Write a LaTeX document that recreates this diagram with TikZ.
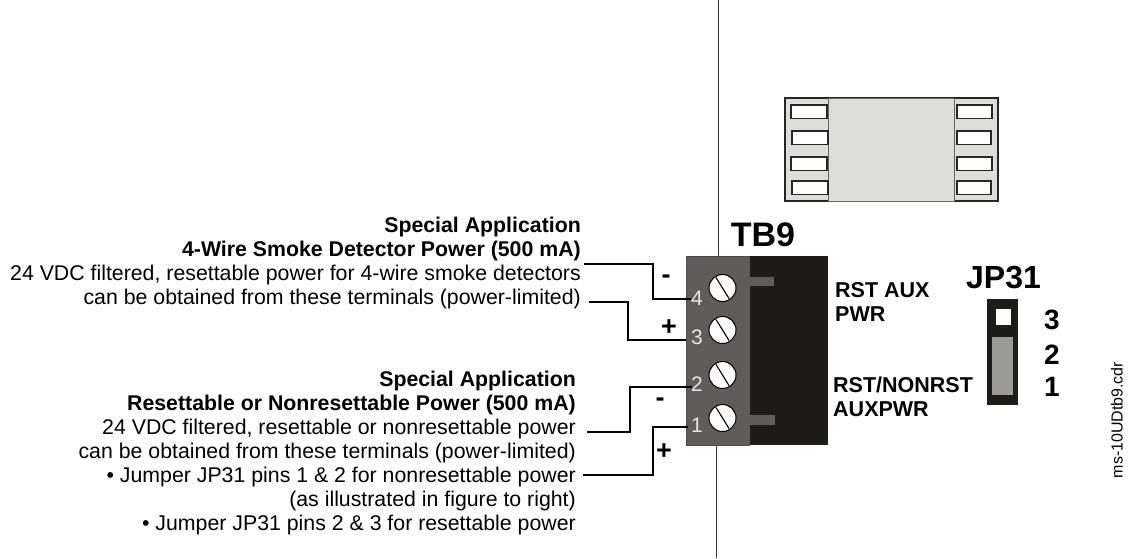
\documentclass[tikz,border=0pt]{standalone}
\usepackage{fontspec}
\setmainfont{Liberation Sans}
\definecolor{blockdark}{HTML}{1E1C1A}
\definecolor{blockgray}{HTML}{5F5C5B}
\definecolor{chipgray}{HTML}{DDDDDC}
\definecolor{jumpgray}{HTML}{9A9A98}
\definecolor{digitgray}{HTML}{E6E6E6}
\tikzset{
  notes/.style={anchor=north east,align=right,inner sep=0pt,font=\fontsize{21.3}{24}\selectfont},
  wire/.style={line width=1.5pt,black},
  heading/.style={inner sep=0pt,font=\bfseries\fontsize{21.5}{24}\selectfont},
  termnum/.style={inner sep=0pt,text=digitgray,font=\fontsize{21}{21}\selectfont},
  polarity/.style={inner sep=0pt,font=\bfseries\fontsize{27}{27}\selectfont},
  pinnum/.style={inner sep=0pt,font=\bfseries\fontsize{28}{28}\selectfont}
}
\begin{document}
\begin{tikzpicture}[x=1pt,y=-1pt]
     \useasboundingbox (0,0) rectangle (1128,558);
     % Definitions
     \def\r{13.5}
     % Center line
     \draw[line width=1pt,black!80] (718,0) -- (718,256);
     \draw[line width=1pt,black!80] (716,445) -- (716,558);
     % Chip and its pins
     \draw[line width=1.2pt,fill=chipgray,draw=black!85] (785,98) rectangle (998,201);
     \draw[line width=1pt,fill=chipgray,draw=black!60] (828,98) rectangle (954,201);
     \foreach \y/\xa/\xb/\xc/\xd in {105/791/827/957/992,131/792/828/957/991,157/791/827/957/992,181/792/828/957/991} {
      \draw[line width=1.2pt,fill=white,draw=black!85] (\xa,\y) rectangle (\xb,\y+13.5);
      \draw[line width=1.2pt,fill=white,draw=black!85] (\xc,\y) rectangle (\xd,\y+13.5);
     };
     % Terminal block
     \fill[blockdark] (738,256) rectangle (828,445);
     \fill[blockgray] (686,256) rectangle (749.5,445);
     \draw[line width=0.8pt,black!70] (686,445) -- (686,256) -- (749.5,256);
     \draw[line width=0.8pt,black!70] (686,445) -- (749.5,445);
     \fill[blockgray] (749,277) rectangle (774,286);
     \fill[blockgray] (749,415) rectangle (775,425);
     % Screws and terminal numbers
     \foreach \n/\yc/\yn in {4/288/298,3/330/337,2/375/384,1/418/425} {
      \node[circle,minimum size=2*\r pt,inner sep=0pt,fill=white,draw=black,line width=1pt] (screw\n) at (722.5,\yc) {};
      \draw[line width=1.1pt] (716,\yc-10.5) -- (729,\yc+10.5);
      \node[termnum] (num\n) at (697,\yn) {\n};
     };
     % Texts
     \node[notes] (upper) at (581,217) {\textbf{Special Application}\\\textbf{4-Wire Smoke Detector Power (500 mA)}\\24 VDC filtered, resettable power for 4-wire smoke detectors\\can be obtained from these terminals (power-limited)};
     \node[notes] (lower) at (576,371) {\textbf{Special Application}\\\textbf{Resettable or Nonresettable Power (500 mA)}\\24 VDC filtered, resettable or nonresettable power\\can be obtained from these terminals (power-limited)\\• Jumper JP31 pins 1 \& 2 for nonresettable power\\(as illustrated in figure to right)\\• Jumper JP31 pins 2 \& 3 for resettable power};
     \node[heading,anchor=north west,align=left] (rstaux) at (835,282) {RST AUX\\PWR};
     \node[heading,anchor=north west,align=left] (rstnon) at (833,377) {RST/NONRST\\AUXPWR};
     \node[inner sep=0pt,font=\bfseries\fontsize{34}{34}\selectfont] (tbname) at (763,235) {TB9};
     \node[inner sep=0pt,font=\bfseries\fontsize{32}{32}\selectfont] (jpname) at (1003.5,278) {JP31};
     \node[pinnum] (pin3) at (1052,320) {3};
     \node[pinnum] (pin2) at (1052,355) {2};
     \node[pinnum] (pin1) at (1052,387) {1};
     \node[rotate=90,inner sep=0pt,font=\fontsize{16}{16}\selectfont] (filename) at (1117,420) {ms-10UDtb9.cdr};
     % Jumper
     \fill[blockdark] (987,299) rectangle (1018,405);
     \fill[white] (996,309) rectangle (1011,325);
     \fill[jumpgray] (992,337) rectangle (1013,395);
     % Wires and polarity marks
     \foreach \n/\xs/\ys/\xm/\xe/\ye in {4/584/264/653/691/299,3/589/302/628/686/340,2/587/432/630/692/387,1/583/475/653/688/427} {
      \coordinate (from\n) at (\xs,\ys);
      \coordinate (to\n) at (\xe,\ye);
      \draw[wire] (from\n) -- (\xm,\ys) -- (\xm,\ye) -- (to\n);
     };
     \node[polarity] (minusa) at (666,279) {-};
     \node[polarity] (plusa) at (669,328) {+};
     \node[polarity] (minusb) at (660,402) {-};
     \node[polarity] (plusb) at (664,452) {+};
\end{tikzpicture}
\end{document}
